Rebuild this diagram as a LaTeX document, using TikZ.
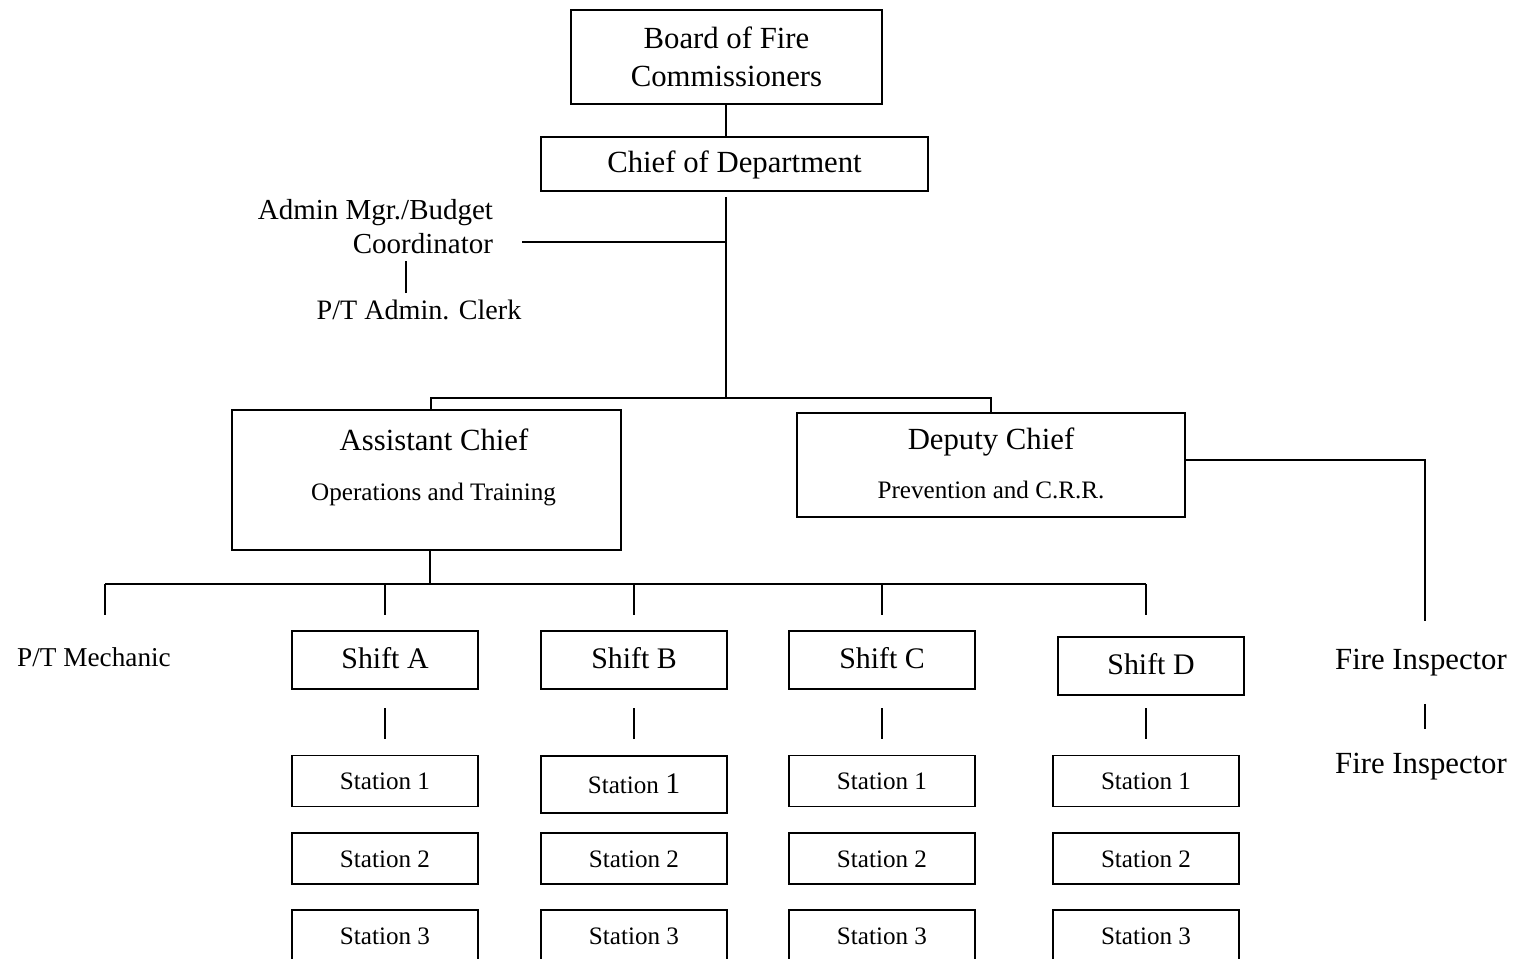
\documentclass[tikz,border=0pt]{standalone}
\usepackage{fontspec}
\setmainfont{Liberation Serif}
\usetikzlibrary{positioning,calc}

\begin{document}
\begin{tikzpicture}[
    x=0.02cm, y=0.02cm,
    line width=1.1pt,
    every node/.style={inner sep=0pt, outer sep=0pt},
    big/.style={font=\fontsize{17.5}{21.5}\selectfont},
    sub/.style={font=\fontsize{14.3}{17}\selectfont},
    lbl/.style={text height=2.2ex, text depth=0pt},
    topbox/.style={draw, rectangle, align=center, big},
    unitbox/.style={draw, rectangle},
    shiftbox/.style={draw, rectangle, lbl, minimum width=3.72cm, minimum height=1.16cm,
                     font=\fontsize{17}{20}\selectfont},
    stationbox/.style={draw, rectangle, lbl, minimum width=3.72cm, minimum height=1.02cm, sub}
]
    \useasboundingbox (0,0) rectangle (1523,-959);
    \clip (0,0) rectangle (1523,-959);

    % top of the chart
    \node[topbox, minimum width=6.22cm, minimum height=1.88cm] (board) at (726.5,-57)
        {Board of Fire\\Commissioners};
    \node[topbox, lbl, minimum width=7.74cm, minimum height=1.08cm] (chief) at (734.5,-164)
        {Chief of Department};
    \coordinate (spine) at (726,-398);

    % admin staff
    \node[lbl, anchor=east, font=\fontsize{16.5}{20}\selectfont] (adminA) at (493,-211) {Admin Mgr./Budget};
    \node[lbl, anchor=east, font=\fontsize{16.5}{20}\selectfont] (adminB) at (493,-245) {Coordinator};
    \node[lbl, font=\fontsize{16}{20}\selectfont] (clerk) at (419,-311) {P/T Admin. Clerk};

    % chiefs
    \node[unitbox, minimum width=7.78cm, minimum height=2.8cm] (asst) at (426.5,-480) {};
    \node[lbl, big] (asstT) at ($(asst.north)+(7.5,-32)$) {Assistant Chief};
    \node[lbl, sub] (asstS) at ($(asst.north)+(7,-82)$) {Operations and Training};
    \node[unitbox, minimum width=7.76cm, minimum height=2.08cm] (deputy) at (991,-465) {};
    \node[lbl, big] (depT) at ($(deputy.north)+(0,-28)$) {Deputy Chief};
    \node[lbl, sub] (depS) at ($(deputy.north)+(0,-77)$) {Prevention and C.R.R.};

    % inspectors
    \node[lbl, big] (insp1) at (1421,-661) {Fire Inspector};
    \node[lbl, big] (insp2) at (1421,-765) {Fire Inspector};

    % shifts and stations
    \node[lbl, font=\fontsize{15.5}{19}\selectfont] (mech) at (94,-658) {P/T Mechanic};
    \coordinate (mechTop) at (105,-615);
    \node[shiftbox] (shA) at (385,-660) {Shift A};
    \node[shiftbox] (shB) at (634,-660) {Shift B};
    \node[shiftbox] (shC) at (882,-660) {Shift C};
    \node[shiftbox] (shD) at (1151,-666) {Shift D};

    \node[stationbox] (sA1) at (385,-781) {Station 1};
    \node[stationbox] (sA2) at (385,-858.5) {Station 2};
    \node[stationbox] (sA3) at (385,-935.5) {Station 3};
    \node[stationbox, minimum height=1.14cm] (sB1) at (634,-784.5)
        {Station {\fontsize{17}{20}\selectfont 1}};
    \node[stationbox] (sB2) at (634,-858.5) {Station 2};
    \node[stationbox] (sB3) at (634,-935.5) {Station 3};
    \node[stationbox] (sC1) at (882,-781) {Station 1};
    \node[stationbox] (sC2) at (882,-858.5) {Station 2};
    \node[stationbox] (sC3) at (882,-935.5) {Station 3};
    \node[stationbox] (sD1) at (1146,-781) {Station 1};
    \node[stationbox] (sD2) at (1146,-858.5) {Station 2};
    \node[stationbox] (sD3) at (1146,-935.5) {Station 3};

    % connectors
    \draw (board.south -| spine) -- (chief.north -| spine);
    \draw ($(chief.south -| spine)+(0,-6)$) -- (spine);
    \draw ($(adminB.east)+(29,3)$) -- ($(adminB.east -| spine)+(0,3)$);
    \draw ($(clerk.north)+(-13,9)$) -- ($(clerk.north)+(-13,41)$);
    \draw ([xshift=0.09cm]asst.north) |- (spine) -| (deputy.north);
    \draw ([yshift=0.1cm]deputy.east) -| ($(insp1.north)+(4,31)$);
    \draw ($(insp1.south)+(4,-34)$) -- ($(insp2.north)+(4,27)$);

    \coordinate (bus) at ($(asst.south)+(3.5,-34)$);
    \draw ([xshift=0.07cm]asst.south) -- (bus);
    \draw (mechTop |- bus) -- (sD1.north |- bus);
    \draw (mechTop |- bus) -- (mechTop);
    \foreach \c in {A,B,C,D} {
        \draw (s\c1.north |- bus) -- ++(0,-31);
        \draw ($(s\c1.north)+(0,17)$) -- ($(s\c1.north)+(0,48)$);
    }
\end{tikzpicture}
\end{document}
